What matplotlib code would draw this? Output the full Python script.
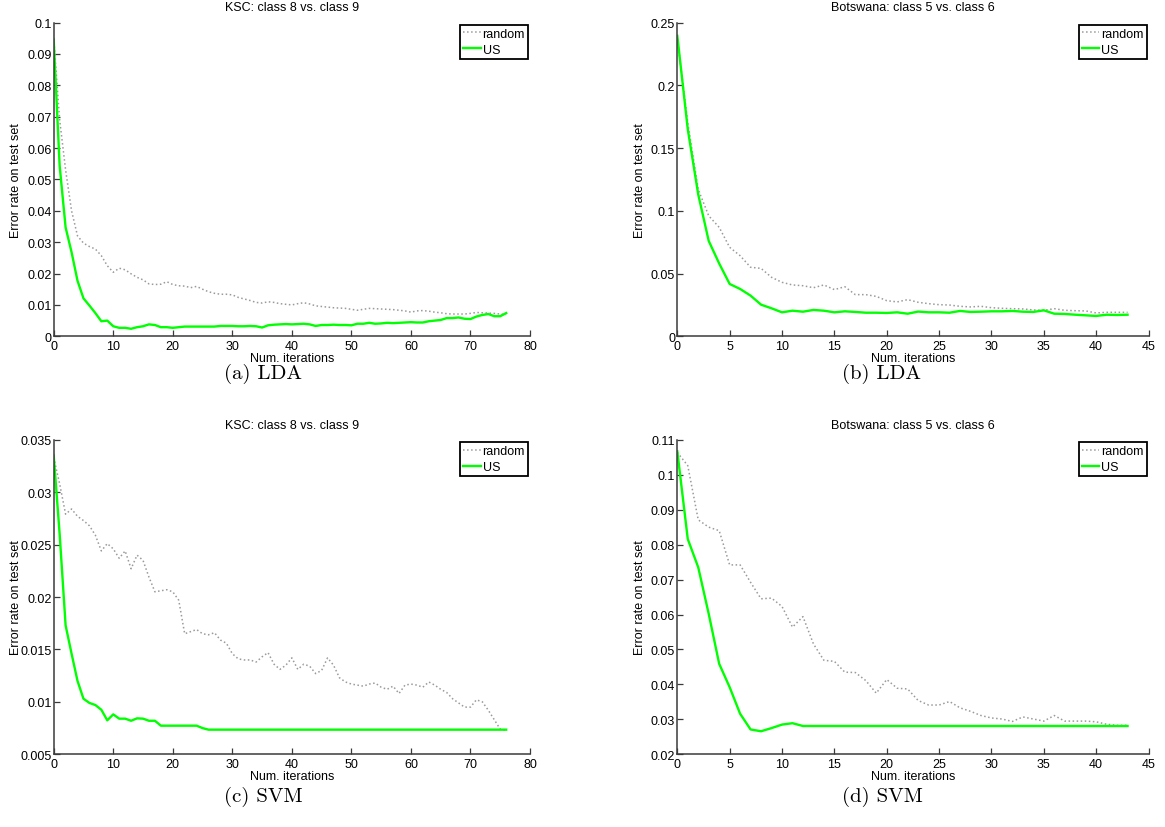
import numpy as np
import matplotlib
matplotlib.use("Agg")
import matplotlib.pyplot as plt
from matplotlib.ticker import FuncFormatter, MultipleLocator

plt.rcParams["font.family"] = ["Liberation Sans", "DejaVu Sans"]

# ---------------------------------------------------------------- data
ksc_iters = np.arange(77)
bots_iters = np.arange(44)

ksc_lda_random = [
    0.095, 0.069, 0.053, 0.040, 0.032, 0.0297, 0.0286, 0.0278, 0.0257, 0.0225,
    0.0204, 0.0217, 0.0212, 0.0199, 0.0188, 0.0180, 0.0167, 0.0165, 0.0166, 0.0174,
    0.0165, 0.0161, 0.0160, 0.0155, 0.0159, 0.0150, 0.0142, 0.0137, 0.0134, 0.0134,
    0.0132, 0.0124, 0.0119, 0.0114, 0.0108, 0.0106, 0.0110, 0.0108, 0.0104, 0.0102,
    0.0100, 0.0104, 0.0107, 0.0103, 0.0097, 0.0095, 0.0093, 0.0091, 0.0090, 0.0089,
    0.0086, 0.0083, 0.0086, 0.0089, 0.0088, 0.0087, 0.0086, 0.0085, 0.0083, 0.0081,
    0.0077, 0.0081, 0.0082, 0.0080, 0.0077, 0.0075, 0.0072, 0.0071, 0.0071, 0.0071,
    0.0073, 0.0076, 0.0075, 0.0074, 0.0073, 0.0071, 0.0069,
]
ksc_lda_us = [
    0.0945, 0.0543, 0.0347, 0.0268, 0.0177, 0.0121, 0.0098, 0.0074, 0.0048, 0.0050,
    0.0032, 0.0027, 0.0027, 0.0024, 0.0029, 0.0032, 0.0038, 0.0036, 0.0029, 0.0029,
    0.0027, 0.0029, 0.0031, 0.0031, 0.0031, 0.0031, 0.0031, 0.0031, 0.0033, 0.0033,
    0.0033, 0.0032, 0.0032, 0.0033, 0.0032, 0.0028, 0.0035, 0.0037, 0.0038, 0.0039,
    0.0038, 0.0039, 0.0040, 0.0038, 0.0033, 0.0036, 0.0036, 0.0037, 0.0036, 0.0036,
    0.0035, 0.0040, 0.0040, 0.0043, 0.0040, 0.0041, 0.0043, 0.0042, 0.0043, 0.0044,
    0.0045, 0.0044, 0.0044, 0.0048, 0.0050, 0.0052, 0.0058, 0.0058, 0.0060, 0.0056,
    0.0055, 0.0063, 0.0068, 0.0071, 0.0064, 0.0064, 0.0074,
]

bots_lda_random = [
    0.237, 0.170, 0.117, 0.096, 0.0868, 0.0709, 0.0642, 0.0550, 0.0541, 0.0470,
    0.0430, 0.0409, 0.0403, 0.0387, 0.0409, 0.0372, 0.0395, 0.0332, 0.0332, 0.0318,
    0.0284, 0.0274, 0.0292, 0.0271, 0.0260, 0.0252, 0.0249, 0.0239, 0.0234, 0.0239,
    0.0228, 0.0223, 0.0220, 0.0218, 0.0210, 0.0207, 0.0220, 0.0207, 0.0204, 0.0202,
    0.0186, 0.0191, 0.0191, 0.0191,
]
bots_lda_us = [
    0.2394, 0.165, 0.113, 0.076, 0.058, 0.0417, 0.0377, 0.0324, 0.0252, 0.0223,
    0.0191, 0.0204, 0.0196, 0.0210, 0.0204, 0.0191, 0.0199, 0.0194, 0.0188, 0.0188,
    0.0186, 0.0191, 0.0180, 0.0197, 0.0191, 0.0191, 0.0188, 0.0202, 0.0194, 0.0196,
    0.0199, 0.0199, 0.0202, 0.0196, 0.0194, 0.0207, 0.0180, 0.0178, 0.0172, 0.0167,
    0.0162, 0.0172, 0.0170, 0.0172,
]

ksc_svm_random = [
    0.0333, 0.0308, 0.0279, 0.0284, 0.0277, 0.0273, 0.0268, 0.0259, 0.0244, 0.0251,
    0.0246, 0.0237, 0.0244, 0.0227, 0.0240, 0.0235, 0.0219, 0.0205, 0.0206, 0.0207,
    0.0205, 0.0197, 0.0165, 0.0167, 0.0169, 0.0165, 0.0164, 0.0166, 0.0159, 0.0156,
    0.0146, 0.0141, 0.0140, 0.0140, 0.0138, 0.0143, 0.0147, 0.0136, 0.0131, 0.0135,
    0.0142, 0.0131, 0.0136, 0.0134, 0.0127, 0.0130, 0.0142, 0.0135, 0.0123, 0.0119,
    0.0117, 0.0116, 0.0115, 0.0117, 0.0118, 0.0114, 0.0112, 0.0115, 0.0108, 0.0116,
    0.0117, 0.0116, 0.0114, 0.0119, 0.0116, 0.0112, 0.0109, 0.0103, 0.0099, 0.0095,
    0.0095, 0.0102, 0.0100, 0.0092, 0.0083, 0.0074, 0.0073,
]
ksc_svm_us = [
    0.0335, 0.0260, 0.0173, 0.0146, 0.0120, 0.0103, 0.0099, 0.0097, 0.00925, 0.00824,
    0.00881, 0.0084, 0.0084, 0.0082, 0.00843, 0.0084, 0.0082, 0.0082, 0.00773, 0.00773,
    0.00773, 0.00773, 0.00773, 0.00773, 0.00773, 0.0075, 0.00735, 0.00735, 0.00735, 0.00735,
    0.00735, 0.00735, 0.00735, 0.00735, 0.00735, 0.00735, 0.00735, 0.00735, 0.00735, 0.00735,
    0.00735, 0.00735, 0.00735, 0.00735, 0.00735, 0.00735, 0.00735, 0.00735, 0.00735, 0.00735,
    0.00735, 0.00735, 0.00735, 0.00735, 0.00735, 0.00735, 0.00735, 0.00735, 0.00735, 0.00735,
    0.00735, 0.00735, 0.00735, 0.00735, 0.00735, 0.00735, 0.00735, 0.00735, 0.00735, 0.00735,
    0.00735, 0.00735, 0.00735, 0.00735, 0.00735, 0.00735, 0.00735,
]

bots_svm_random = [
    0.1064, 0.1026, 0.0871, 0.0850, 0.0840, 0.0742, 0.0742, 0.0692, 0.0645, 0.0647,
    0.0623, 0.0564, 0.0594, 0.0516, 0.0469, 0.0466, 0.0435, 0.0434, 0.0411, 0.0375,
    0.0414, 0.0389, 0.0387, 0.0354, 0.0341, 0.0341, 0.0351, 0.0333, 0.0323, 0.0311,
    0.0304, 0.0301, 0.0294, 0.0307, 0.0301, 0.0295, 0.0311, 0.0295, 0.0295, 0.0295,
    0.0293, 0.0286, 0.0283, 0.0283,
]
bots_svm_us = [
    0.1067, 0.0816, 0.0735, 0.0602, 0.0459, 0.0392, 0.0316, 0.0271, 0.0266, 0.0275,
    0.0285, 0.0289, 0.0281, 0.0281, 0.0281, 0.0281, 0.0281, 0.0281, 0.0281, 0.0281,
    0.0281, 0.0281, 0.0281, 0.0281, 0.0281, 0.0281, 0.0281, 0.0281, 0.0281, 0.0281,
    0.0281, 0.0281, 0.0281, 0.0281, 0.0281, 0.0281, 0.0281, 0.0281, 0.0281, 0.0281,
    0.0281, 0.0281, 0.0281, 0.0281,
]

titles = ["KSC: class 8 vs. class 9", "Botswana: class 5 vs. class 6",
          "KSC: class 8 vs. class 9", "Botswana: class 5 vs. class 6"]
captions = ["(a) LDA", "(b) LDA", "(c) SVM", "(d) SVM"]
series_labels = ["random", "US"]
x_label = "Num. iterations"
y_label = "Error rate on test set"

# ---------------------------------------------------------------- layout
W, H = 1165, 828
fig = plt.figure(figsize=(W / 100, H / 100), dpi=100)

col_left = [53.7 / W, 677.3 / W]
col_width = [476.3 / W, 471.2 / W]
row_bottom = [1 - 337.3 / H, 1 - 755.3 / H]
row_height = [313.8 / H, 314.5 / H]

panels = [
    dict(r=0, c=0, x=ksc_iters, rnd=ksc_lda_random, us=ksc_lda_us,
         xlim=(0, 80), xstep=10, ylim=(0, 0.1), ystep=0.01),
    dict(r=0, c=1, x=bots_iters, rnd=bots_lda_random, us=bots_lda_us,
         xlim=(0, 45), xstep=5, ylim=(0, 0.25), ystep=0.05),
    dict(r=1, c=0, x=ksc_iters, rnd=ksc_svm_random, us=ksc_svm_us,
         xlim=(0, 80), xstep=10, ylim=(0.005, 0.035), ystep=0.005),
    dict(r=1, c=1, x=bots_iters, rnd=bots_svm_random, us=bots_svm_us,
         xlim=(0, 45), xstep=5, ylim=(0.02, 0.11), ystep=0.01),
]

caption_pos = [(263 / W, 1 - 374 / H), (882 / W, 1 - 374 / H),
               (263 / W, 1 - 797 / H), (882 / W, 1 - 797 / H)]

fmt = FuncFormatter(lambda v, _: f"{round(v, 6):g}")
axis_color = "#3a3a3a"

for i, p in enumerate(panels):
    ax = fig.add_axes([col_left[p["c"]], row_bottom[p["r"]],
                       col_width[p["c"]], row_height[p["r"]]])
    ax.plot(p["x"], p["rnd"], linestyle=":", color="#9a9a9a", lw=1.1,
            label=series_labels[0])
    ax.plot(p["x"], p["us"], linestyle="-", color="#00ff00", lw=1.7,
            label=series_labels[1])

    ax.set_xlim(*p["xlim"])
    ax.set_ylim(*p["ylim"])
    ax.xaxis.set_major_locator(MultipleLocator(p["xstep"]))
    ax.yaxis.set_major_locator(MultipleLocator(p["ystep"]))
    ax.yaxis.set_major_formatter(fmt)

    for side in ("top", "right"):
        ax.spines[side].set_visible(False)
    for side in ("left", "bottom"):
        ax.spines[side].set_color(axis_color)
        ax.spines[side].set_linewidth(1.1)
    ax.tick_params(direction="in", length=4, width=0.9, color=axis_color,
                   labelsize=9, labelcolor="black", top=False, right=False)
    ax.tick_params(axis="y", pad=1.5)
    ax.tick_params(axis="x", pad=2.5)

    ax.text(0.5, 1.048, titles[i], transform=ax.transAxes,
            ha="center", va="center", fontsize=9)
    ax.set_xlabel(x_label, fontsize=9)
    ax.xaxis.set_label_coords(0.5, -0.05)
    ax.set_ylabel(y_label, fontsize=9)
    ax.yaxis.set_label_coords(-0.067, 0.5)

    leg = ax.legend(loc="upper right", bbox_to_anchor=(0.996, 0.993),
                    borderaxespad=0, fancybox=False, framealpha=1,
                    edgecolor="black", fontsize=9, handlelength=1.4,
                    handletextpad=0.15, labelspacing=0.3, borderpad=0.25)
    leg.get_frame().set_linewidth(1.3)

    fig.text(caption_pos[i][0], caption_pos[i][1], captions[i],
             ha="center", va="center", fontsize=15, fontfamily="cmr10")

fig.savefig("out.png", dpi=100)
